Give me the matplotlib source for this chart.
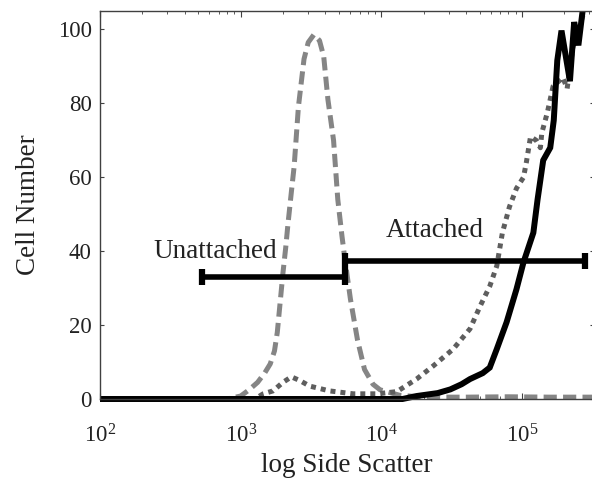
import numpy as np
import matplotlib
matplotlib.use("Agg")
import matplotlib.pyplot as plt
from matplotlib.patches import Rectangle

plt.rcParams['font.family'] = ['Liberation Serif', 'DejaVu Serif']
plt.rcParams['mathtext.fontset'] = 'custom'
plt.rcParams['mathtext.rm'] = 'Liberation Serif'
plt.rcParams['mathtext.it'] = 'Liberation Serif:italic'
plt.rcParams['lines.scale_dashes'] = False

# side scatter positions are read as log10 values off the axis
unatt_logx = [2.0, 2.9, 3.0, 3.06, 3.12, 3.17, 3.21, 3.24, 3.26, 3.28, 3.30, 3.32, 3.335, 3.36,
              3.38, 3.41, 3.45, 3.48, 3.52, 3.56, 3.59, 3.62, 3.66, 3.69, 3.72, 3.74,
              3.78, 3.83, 3.88, 3.94, 3.99, 4.13, 4.3, 4.6, 4.9, 5.2, 5.51]
unatt_y = [0, 0, 0.8, 2.5, 4.5, 7, 9.5, 13, 18, 26, 34, 41, 47, 56,
           63, 79, 92, 96.5, 98.6, 97, 92.7, 81, 70, 54, 44, 38,
           27, 16, 8, 4, 2.5, 1.0, 0.5, 0.5, 0.6, 0.5, 0.5]

dotted_logx = [2.0, 3.1, 3.16, 3.23, 3.30, 3.36, 3.42, 3.49, 3.63, 3.80, 3.97, 4.11, 4.25,
               4.37, 4.51, 4.63, 4.70, 4.77, 4.82, 4.84, 4.86, 4.91, 4.96, 5.01, 5.03,
               5.06, 5.10, 5.13, 5.14, 5.18, 5.22, 5.29, 5.32, 5.36, 5.45]
dotted_y = [0, 0, 1.4, 2.2, 4.5, 6, 5, 3.5, 2.2, 1.4, 1.4, 2, 5.4,
            9, 13.5, 19, 25, 30.5, 36, 40.5, 45, 52, 57, 60, 64,
            71, 70, 68, 72, 77.6, 84.6, 87, 84, 95, 106]

attached_logx = [2.0, 4.15, 4.25, 4.40, 4.49, 4.57, 4.63, 4.72, 4.77, 4.82, 4.89, 4.96, 5.01,
                 5.08, 5.11, 5.15, 5.20, 5.225, 5.25, 5.28, 5.34, 5.37, 5.40, 5.43, 5.46]
attached_y = [0, 0, 0.8, 1.6, 2.6, 4, 5.4, 7, 8.5, 13.5, 20.8, 29.7, 37,
              45, 54, 64.6, 68, 75.4, 91.6, 99.7, 86, 102, 95.7, 105, 110]

# gate bars
unatt_gate = [530, 5500]
unatt_gate_y = 33
att_gate = [5500, 280000]
att_gate_y = 37.4

yticks = [0, 20, 40, 60, 80, 100]

fig = plt.figure(figsize=(5.92, 4.79), dpi=100)
ax = fig.add_axes([100 / 592, 80 / 479, 494 / 592, 388 / 479])

clip = Rectangle((0, -0.02), 1, 1.02, transform=ax.transAxes, facecolor='none', edgecolor='none')
ax.add_patch(clip)

l1, = ax.plot(np.power(10.0, unatt_logx), unatt_y, color='#858585', lw=3.6,
              dashes=(9.5, 4.5), dash_capstyle='butt')
l2, = ax.plot(np.power(10.0, dotted_logx), dotted_y, color='#5e5e5e', lw=3.6,
              dashes=(3.6, 3.6), dash_capstyle='butt')
l3, = ax.plot(np.power(10.0, attached_logx), attached_y, color='black', lw=4.3,
              solid_joinstyle='miter')
for ln in (l1, l2, l3):
    ln.set_clip_path(clip)

ax.plot(unatt_gate, [unatt_gate_y] * 2, color='black', lw=4, marker='|', ms=11, mew=4.5)
ax.plot(att_gate, [att_gate_y] * 2, color='black', lw=4, marker='|', ms=11, mew=4.5)
ax.text(660, 40, 'Unattached', fontsize=19.5, ha='center', va='center', color='#222222')
ax.text(24000, 45.5, 'Attached', fontsize=19.5, ha='center', va='center', color='#222222')

ax.set_xscale('log')
ax.set_xlim(1e2, 10 ** 5.511)
ax.set_ylim(0, 105)
ax.set_yticks(yticks)
ax.set_xticks([1e2, 1e3, 1e4, 1e5])

for s in ax.spines.values():
    s.set_linewidth(1.0)
    s.set_color('#404040')

ax.tick_params(which='both', direction='in', top=True, right=True, colors='#404040',
               labelcolor='#222222', labelsize=16.5)
ax.tick_params(axis='x', which='major', length=4, pad=18)
ax.tick_params(axis='x', which='minor', length=2.5)
ax.tick_params(axis='y', which='major', length=3, pad=6)
ax.tick_params(axis='y', which='minor', left=False, right=False)

ax.set_xlabel('log Side Scatter', fontsize=19.5, color='#222222', labelpad=4)
ax.set_ylabel('Cell Number', fontsize=19.5, color='#222222', labelpad=12)

plt.savefig('out.png', dpi=100)
